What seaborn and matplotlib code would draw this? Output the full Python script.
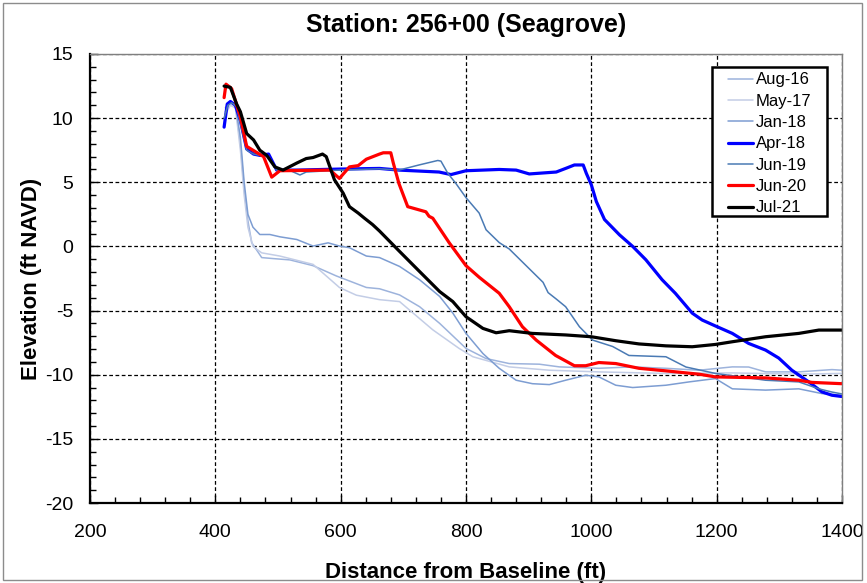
import matplotlib
matplotlib.use("Agg")
import matplotlib.pyplot as plt
import seaborn as sns
import pandas as pd
from matplotlib.patches import Rectangle
from matplotlib.ticker import MultipleLocator

# ---------------- data ----------------
surveys = ["Aug-16", "May-17", "Jan-18", "Apr-18", "Jun-19", "Jun-20", "Jul-21"]

aug16_x = [416, 424, 432, 440, 446, 452, 458, 474, 493, 519, 556, 593, 641, 662, 694, 726, 758, 800, 832, 869, 917, 949, 1012, 1066, 1119, 1172, 1225, 1251, 1278, 1331, 1384, 1400]
aug16_y = [10.5, 11.2, 11.0, 8.0, 4.5, 2.0, 0.3, -0.87, -0.95, -1.05, -1.5, -2.3, -3.2, -3.3, -3.78, -4.7, -6.0, -7.95, -8.74, -9.13, -9.18, -9.39, -9.5, -9.39, -9.5, -9.65, -9.39, -9.4, -9.78, -9.78, -9.6, -9.65]

may17_x = [416, 424, 432, 440, 446, 452, 460, 474, 503, 556, 598, 625, 662, 694, 747, 789, 811, 869, 933, 1012, 1119, 1225, 1331, 1400]
may17_y = [10.3, 11.0, 10.8, 7.5, 4.0, 1.5, 0.0, -0.5, -0.75, -1.4, -3.2, -3.8, -4.15, -4.3, -6.5, -7.95, -8.6, -9.39, -9.65, -9.78, -9.9, -9.86, -9.96, -9.9]

jan18_x = [416, 424, 432, 440, 446, 452, 460, 471, 487, 503, 530, 556, 580, 598, 614, 641, 662, 694, 726, 758, 779, 800, 827, 853, 880, 906, 933, 959, 991, 1012, 1039, 1066, 1119, 1156, 1198, 1225, 1278, 1331, 1368, 1400]
jan18_y = [10.8, 11.3, 11.0, 8.5, 5.0, 2.5, 1.5, 0.93, 0.93, 0.75, 0.54, 0.03, 0.28, 0.03, -0.1, -0.75, -0.87, -1.56, -2.6, -3.9, -5.2, -6.78, -8.35, -9.5, -10.43, -10.7, -10.77, -10.43, -10.04, -10.17, -10.82, -11.0, -10.82, -10.56, -10.3, -11.1, -11.2, -11.1, -11.47, -11.6]

apr18_x = [414, 419, 424, 432, 440, 450, 461, 471, 485, 498, 530, 598, 662, 693, 757, 776, 800, 853, 880, 901, 944, 960, 973, 987, 992, 1000, 1008, 1021, 1045, 1066, 1087, 1113, 1134, 1161, 1177, 1198, 1225, 1251, 1278, 1299, 1320, 1347, 1368, 1384, 1400]
apr18_y = [9.3, 11.1, 11.3, 11.0, 9.8, 7.6, 7.2, 7.1, 7.2, 5.95, 5.95, 6.03, 6.08, 5.95, 5.8, 5.6, 5.9, 6.0, 5.95, 5.65, 5.8, 6.1, 6.35, 6.35, 5.7, 4.8, 3.5, 2.1, 0.9, 0.0, -1.04, -2.6, -3.65, -5.2, -5.74, -6.2, -6.78, -7.56, -8.08, -8.7, -9.65, -10.56, -11.34, -11.6, -11.7]

jun19_x = [414, 420, 426, 434, 440, 450, 461, 471, 485, 498, 520, 535, 545, 598, 662, 693, 725, 755, 760, 771, 784, 800, 821, 832, 853, 869, 896, 923, 931, 944, 959, 981, 1002, 1034, 1060, 1119, 1151, 1198, 1278, 1331, 1363, 1384, 1400]
jun19_y = [10.0, 11.0, 11.2, 10.9, 9.6, 7.5, 7.2, 7.1, 7.0, 5.95, 5.9, 5.57, 5.8, 5.95, 6.05, 5.95, 6.35, 6.7, 6.65, 5.7, 4.9, 3.8, 2.6, 1.3, 0.3, -0.2, -1.5, -2.8, -3.6, -4.1, -4.7, -6.26, -7.3, -7.8, -8.5, -8.6, -9.4, -9.9, -10.43, -10.56, -11.1, -11.35, -11.5]

jun20_x = [414, 417, 426, 440, 450, 477, 490, 503, 583, 598, 614, 628, 641, 662, 668, 680, 684, 693, 707, 736, 741, 747, 773, 800, 821, 853, 869, 890, 912, 943, 973, 991, 1012, 1039, 1076, 1119, 1172, 1198, 1278, 1331, 1352, 1400]
jun20_y = [11.6, 12.65, 12.3, 10.1, 7.8, 7.0, 5.4, 5.9, 5.95, 5.3, 6.2, 6.3, 6.8, 7.2, 7.3, 7.3, 6.5, 4.9, 3.1, 2.7, 2.35, 2.2, 0.3, -1.5, -2.4, -3.65, -4.7, -6.26, -7.3, -8.5, -9.3, -9.3, -9.05, -9.13, -9.5, -9.7, -9.96, -10.17, -10.25, -10.43, -10.6, -10.7]

jul21_x = [414, 424, 434, 440, 450, 461, 471, 482, 495, 508, 530, 545, 556, 571, 577, 590, 604, 614, 628, 638, 651, 662, 694, 726, 758, 779, 800, 827, 848, 869, 906, 959, 1000, 1039, 1076, 1119, 1161, 1198, 1225, 1278, 1331, 1363, 1400]
jul21_y = [12.5, 12.4, 11.1, 10.5, 8.8, 8.3, 7.5, 7.1, 6.2, 5.95, 6.5, 6.85, 6.93, 7.2, 7.0, 5.2, 4.15, 3.1, 2.6, 2.2, 1.7, 1.2, -0.39, -1.96, -3.52, -4.3, -5.48, -6.39, -6.73, -6.57, -6.78, -6.9, -7.04, -7.35, -7.6, -7.75, -7.82, -7.64, -7.43, -7.04, -6.78, -6.52, -6.52]

xs = [aug16_x, may17_x, jan18_x, apr18_x, jun19_x, jun20_x, jul21_x]
ys = [aug16_y, may17_y, jan18_y, apr18_y, jun19_y, jun20_y, jul21_y]

colors = ["#9db3dc", "#c3cde6", "#7d9dd2", "#0000ff", "#4a7ab4", "#ff0000", "#000000"]
widths = [1.1, 1.1, 1.1, 2.3, 1.1, 2.3, 2.3]

x_ticks = [200, 400, 600, 800, 1000, 1200, 1400]
y_ticks = [-20, -15, -10, -5, 0, 5, 10, 15]

df = pd.concat([pd.DataFrame({"dist": x, "elev": y, "survey": s})
                for s, x, y in zip(surveys, xs, ys)], ignore_index=True)

# ---------------- plot ----------------
sns.set_theme(style="white")
plt.rcParams["font.family"] = ["Liberation Sans", "DejaVu Sans"]
plt.rcParams["axes.unicode_minus"] = False
plt.rcParams["text.color"] = "black"
plt.rcParams["axes.labelcolor"] = "black"
plt.rcParams["xtick.color"] = "black"
plt.rcParams["ytick.color"] = "black"

fig = plt.figure(figsize=(8.67, 5.83), dpi=100)
ax = fig.add_axes([90 / 867, 1 - 503 / 583, 752 / 867, 449 / 583])

for s, c, w in zip(surveys, colors, widths):
    sub = df[df["survey"] == s]
    sns.lineplot(data=sub, x="dist", y="elev", ax=ax, color=c, linewidth=w,
                 label=s, sort=False, estimator=None)

ax.set_xlim(200, 1400)
ax.set_ylim(-20, 15)
ax.set_xticks(x_ticks)
ax.set_yticks(y_ticks)
ax.xaxis.set_minor_locator(MultipleLocator(40))
ax.yaxis.set_minor_locator(MultipleLocator(1))
ax.tick_params(axis="both", which="both", direction="in", labelsize=14,
               colors="black", labelcolor="black",
               top=False, right=False, bottom=True, left=True)
ax.tick_params(which="major", length=6, width=1)
ax.tick_params(which="minor", length=4, width=1)
ax.tick_params(axis="x", which="major", pad=15)
ax.tick_params(axis="y", which="major", pad=12)

ax.grid(True, which="major", color="black", linestyle=(0, (3, 2)), linewidth=0.9)

for side in ["left", "bottom"]:
    ax.spines[side].set_color("black")
    ax.spines[side].set_linewidth(1.6)
for side in ["top", "right"]:
    ax.spines[side].set_color("#7f7f7f")
    ax.spines[side].set_linewidth(1.0)

ax.set_title("Station: 256+00 (Seagrove)", fontsize=18, fontweight="bold",
             pad=16, color="black")
ax.set_xlabel("Distance from Baseline (ft)", fontsize=16, fontweight="bold",
              labelpad=15, color="black")
ax.set_ylabel("Elevation (ft NAVD)", fontsize=16, fontweight="bold",
              labelpad=2, color="black")

# legend frame drawn as a separate box, legend entries placed inside it
ax.add_patch(Rectangle((0.827, 0.639), 0.153, 0.333, transform=ax.transAxes,
                       facecolor="white", edgecolor="black", linewidth=1.8,
                       zorder=4.5))
leg = ax.legend(loc="upper left", bbox_to_anchor=(0.848, 0.959), fontsize=12,
                frameon=False, handlelength=1.5, handletextpad=0.18,
                labelspacing=0.38, borderaxespad=0.0, borderpad=0.0)
leg.set_zorder(5)
for t in leg.get_texts():
    t.set_color("black")

fig.patches.append(Rectangle((3 / 867, 3 / 583), 859 / 867, 577 / 583,
                             transform=fig.transFigure, fill=False,
                             edgecolor="#8c8c8c", linewidth=1.0))

fig.savefig("out.png", dpi=100)
